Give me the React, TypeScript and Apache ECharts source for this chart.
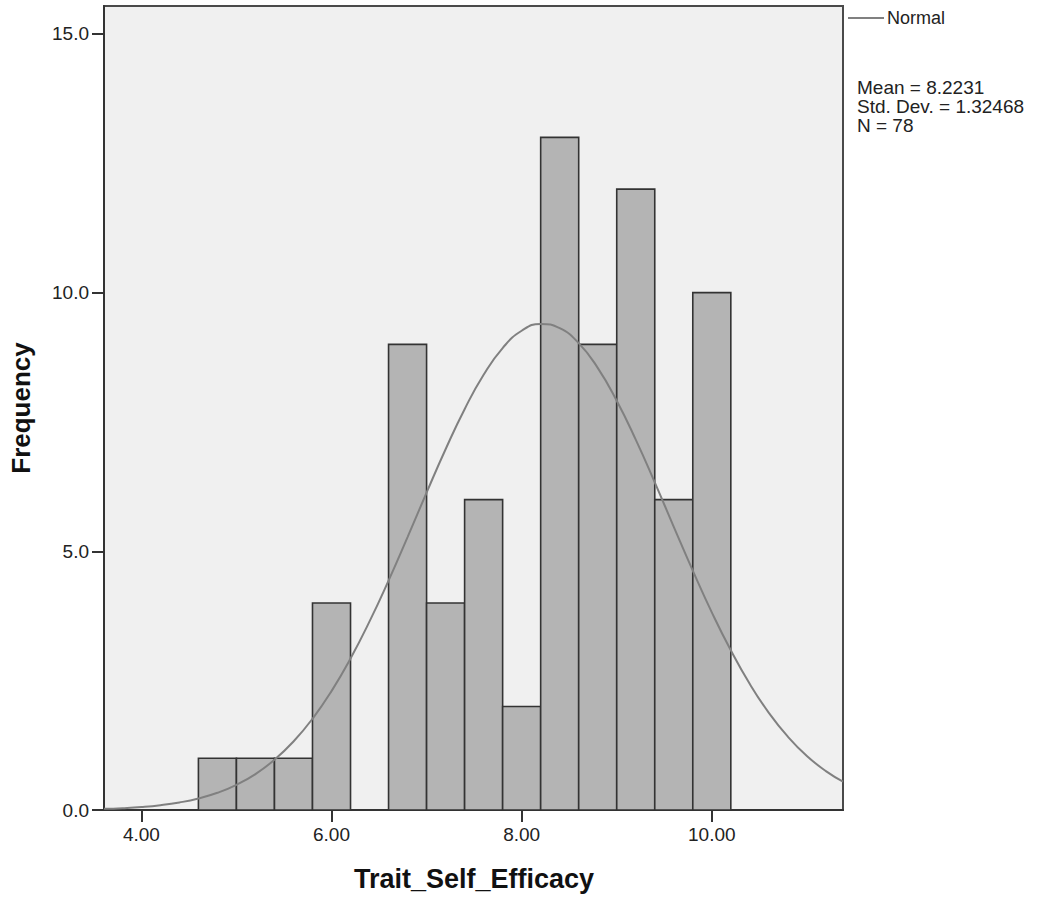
import React, { useEffect, useRef } from "react";
import * as echarts from "echarts";

// Histogram bins (start of each bin, width 0.4) and frequencies
const binStarts = [4.6, 5.0, 5.4, 5.8, 6.2, 6.6, 7.0, 7.4, 7.8, 8.2, 8.6, 9.0, 9.4, 9.8];
const binWidth = 0.4;
const counts = [1, 1, 1, 4, 0, 9, 4, 6, 2, 13, 9, 12, 6, 10];

// Normal curve points
const curveX = [3.607, 3.8, 4.0, 4.2, 4.4, 4.6, 4.8, 5.0, 5.2, 5.4, 5.6, 5.8, 6.0, 6.2, 6.4, 6.6, 6.8, 7.0, 7.2, 7.4, 7.6, 7.8, 8.0, 8.2, 8.4, 8.6, 8.8, 9.0, 9.2, 9.4, 9.6, 9.8, 10.0, 10.2, 10.4, 10.6, 10.8, 11.0, 11.2, 11.38];
const curveY = [0.022, 0.036, 0.058, 0.093, 0.146, 0.223, 0.333, 0.487, 0.695, 0.970, 1.323, 1.763, 2.298, 2.928, 3.645, 4.435, 5.276, 6.135, 6.973, 7.747, 8.412, 8.929, 9.263, 9.395, 9.312, 9.023, 8.546, 7.911, 7.159, 6.333, 5.474, 4.627, 3.821, 3.086, 2.435, 1.878, 1.417, 1.044, 0.752, 0.549];

const xTicks = [4, 6, 8, 10];
const yTicks = [0, 5, 10, 15];

const statsLines = ["Mean = 8.2231", "Std. Dev. = 1.32468", "N = 78"];
const legendLabel = "Normal";
const xTitle = "Trait_Self_Efficacy";
const yTitle = "Frequency";

const FONT = "'Liberation Sans', Arial, sans-serif";

export default function App() {
  const ref = useRef<HTMLDivElement>(null);

  useEffect(() => {
    if (!ref.current) return;
    const chart = echarts.init(ref.current, undefined, { renderer: "svg" });

    const barData = binStarts.map((s, i) => [s, s + binWidth, counts[i]]);
    const lineData = curveX.map((x, i) => [x, curveY[i]]);

    const option: any = {
      animation: false,
      backgroundColor: "#ffffff",
      grid: {
        left: 104,
        top: 6,
        width: 739,
        height: 804,
        show: true,
        backgroundColor: "#f0f0f0",
        borderColor: "#4a4a4a",
        borderWidth: 2,
        z: 0,
      },
      xAxis: {
        type: "value",
        min: 3.607,
        max: 11.38,
        axisLine: { show: true, lineStyle: { color: "#333", width: 2 } },
        axisTick: {
          show: true,
          length: 12,
          customValues: xTicks,
          lineStyle: { color: "#333", width: 2 },
        },
        axisLabel: {
          customValues: xTicks,
          formatter: (v: number) => v.toFixed(2),
          fontFamily: FONT,
          fontSize: 19,
          color: "#222",
          margin: 15,
        },
        splitLine: { show: false },
      },
      yAxis: {
        type: "value",
        min: 0,
        max: 15.54,
        axisLine: { show: true, lineStyle: { color: "#333", width: 2 } },
        axisTick: {
          show: true,
          length: 12,
          customValues: yTicks,
          lineStyle: { color: "#333", width: 2 },
        },
        axisLabel: {
          customValues: yTicks,
          formatter: (v: number) => v.toFixed(1),
          fontFamily: FONT,
          fontSize: 19,
          color: "#222",
          margin: 15,
        },
        splitLine: { show: false },
      },
      series: [
        {
          type: "custom",
          z: 2,
          data: barData,
          encode: { x: [0, 1], y: 2 },
          renderItem: (params: any, api: any) => {
            const h = api.value(2);
            if (!h) return null;
            const p0 = api.coord([api.value(0), h]);
            const p1 = api.coord([api.value(1), 0]);
            return {
              type: "rect",
              shape: { x: p0[0], y: p0[1], width: p1[0] - p0[0], height: p1[1] - p0[1] },
              style: { fill: "#b4b4b4", stroke: "#333333", lineWidth: 1.6 },
            };
          },
        },
        {
          type: "line",
          z: 3,
          data: lineData,
          smooth: true,
          showSymbol: false,
          symbol: "none",
          lineStyle: { color: "#808080", width: 2 },
        },
      ],
      graphic: [
        {
          type: "line",
          shape: { x1: 848, y1: 18, x2: 884, y2: 18 },
          style: { stroke: "#808080", lineWidth: 2 },
        },
        {
          type: "text",
          x: 887,
          y: 18,
          style: {
            text: legendLabel,
            fontFamily: FONT,
            fontSize: 18,
            fill: "#222",
            verticalAlign: "middle",
            align: "left",
          },
        },
        {
          type: "text",
          x: 857,
          y: 78,
          style: {
            text: statsLines.join("\n"),
            fontFamily: FONT,
            fontSize: 19,
            lineHeight: 19,
            fill: "#222",
            verticalAlign: "top",
            align: "left",
          },
        },
        {
          type: "text",
          x: 474,
          y: 879,
          style: {
            text: xTitle,
            fontFamily: FONT,
            fontSize: 27,
            fontWeight: "bold",
            fill: "#111",
            align: "center",
            verticalAlign: "middle",
          },
        },
        {
          type: "text",
          x: 21,
          y: 408,
          rotation: Math.PI / 2,
          style: {
            text: yTitle,
            fontFamily: FONT,
            fontSize: 26,
            fontWeight: "bold",
            fill: "#111",
            align: "center",
            verticalAlign: "middle",
          },
        },
      ],
    };

    chart.setOption(option);
    return () => chart.dispose();
  }, []);

  return (
    <div
      ref={ref}
      style={{ position: "absolute", left: 0, top: 0, width: 1040, height: 900 }}
    />
  );
}
